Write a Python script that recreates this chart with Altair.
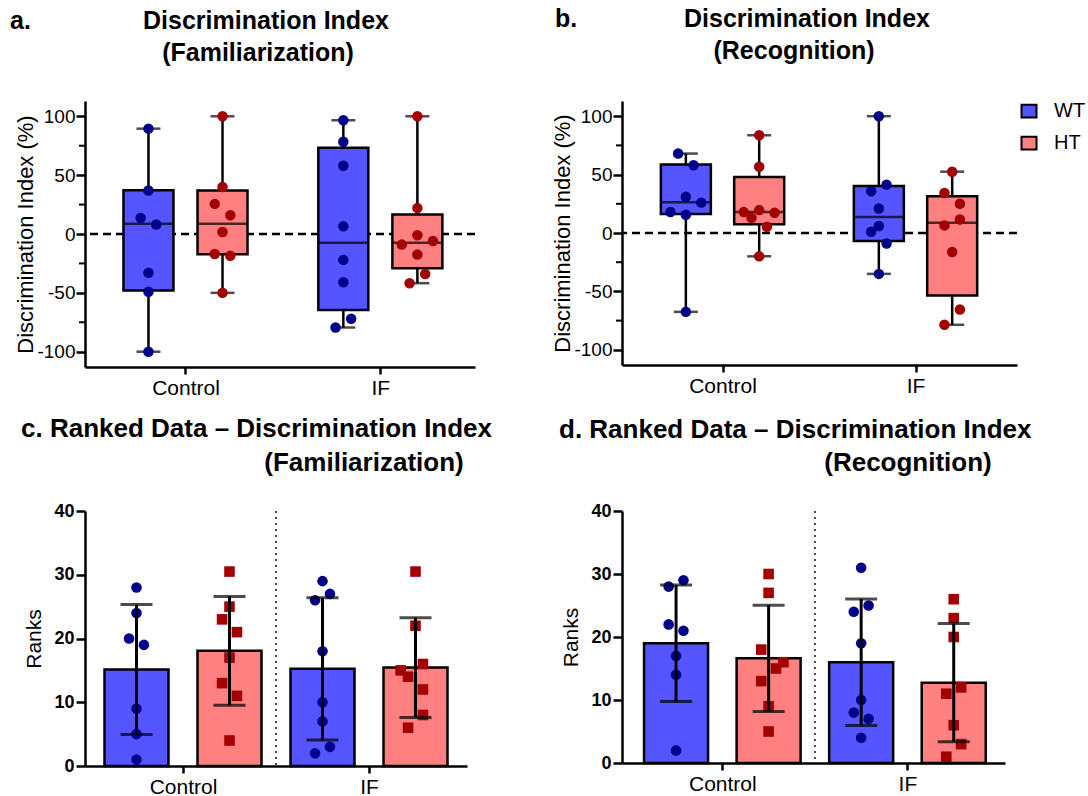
import altair as alt
import pandas as pd

FONT = "Liberation Sans"
WT_FILL, HT_FILL = "#5555FF", "#FF8080"
WT_DOT, HT_DOT = "#00008B", "#A30000"
GENOS = ["WT", "HT"]
ORDER = [("Control", "WT"), ("Control", "HT"), ("IF", "WT"), ("IF", "HT")]

# ---------- a. Discrimination Index (Familiarization), %
fam_wt_control = [89.5, 37, 13.6, 8, -33, -49, -100]
fam_ht_control = [100, 40, 25.6, 16, 1.7, -17, -18.5, -50]
fam_wt_if = [96.6, 78.4, 58, 6.5, -22, -41, -72, -79.5]
fam_ht_if = [100, 22, -1, -6, -9, -17.5, -34, -41.8]
fam_jit = [[0, 0, -1, 1, 0, 0, 0], [0, 0, -1, 1, 0, -1, 1, 0],
           [0, 0, 0, 0, 0, 0, 1, -1], [0, 0, 0, 2, -2, 0, 1, -1]]
fam_q1 = [-48, -17.3, -64.5, -29]
fam_median = [8.8, 8.8, -7.4, -7.4]
fam_q3 = [37.2, 37, 73.3, 16.5]

# ---------- b. Discrimination Index (Recognition), %
rec_wt_control = [68, 58, 31, 26, 18, 15.6, -67.5]
rec_ht_control = [83.7, 56.7, 19.6, 17.9, 17.3, 13, 5.4, -20]
rec_wt_if = [100, 41.4, 35.7, 21, 6, 1.1, -9, -35]
rec_ht_if = [52.5, 34.3, 25, 11.6, 6.5, -16.2, -65.5, -78.6]
rec_jit = [[-1, 1, 0, 2, -2, 0, 0], [0, 0, 0, -2, 2, -1, 1, 0],
           [0, 1, -1, 0, 0, -1, 1, 0], [0, -1, 1, 1, -1, 0, 1, -1]]
rec_q1 = [16.2, 7.4, -6.8, -53.6]
rec_median = [26.4, 17.9, 13.6, 8.8]
rec_q3 = [58.7, 48, 40.3, 31.5]

# ---------- c. Ranked data (Familiarization)
rank_fam_wt_control = [28, 24, 20, 19, 9, 5, 1]
rank_fam_ht_control = [30.5, 25, 23, 21, 17, 13, 11, 4]
rank_fam_wt_if = [29, 27, 26, 18, 10, 7, 3, 2]
rank_fam_ht_if = [30.5, 22, 16, 15, 14, 12, 8, 6]
rank_fam_jit = [[0, 0, -1, 1, 0, 0, 0], [0, 0, -1, 1, 0, -1, 1, 0],
                [0, 1, -1, 0, 0, 0, 1, -1], [0, 0, 1, -2, -1, 1, 1, -1]]

# ---------- d. Ranked data (Recognition)
rank_rec_wt_control = [29, 28, 22, 21, 17, 14, 2]
rank_rec_ht_control = [30, 27, 18, 16, 15, 13, 9, 5]
rank_rec_wt_if = [31, 25, 24, 19, 10, 8, 7, 4]
rank_rec_ht_if = [26, 23, 20, 12, 11, 6, 3, 1]
rank_rec_jit = [[1, -1, -1, 1, 0, 0, 0], [0, 0, -1, 2, 1, -1, 0, 0],
                [0, 1, -1, 0, 0, -1, 1, 0], [0, 0, 0, 1, -1, 0, 1, -1]]

minor_ticks = [-75, -25, 25, 75]


def point_frame(lists, jits):
    rows = []
    for (g, ge), vals, js in zip(ORDER, lists, jits):
        for v, j in zip(vals, js):
            rows.append({"group": g, "geno": ge, "value": v, "jit": j})
    return pd.DataFrame(rows)


def box_frame(lists, q1, med, q3):
    rows = []
    for (g, ge), vals, a, m, b in zip(ORDER, lists, q1, med, q3):
        rows.append({"group": g, "geno": ge, "q1": a, "median": m, "q3": b,
                     "lo": min(vals), "hi": max(vals)})
    return pd.DataFrame(rows)


def title_layer(label, x, y, align="center", size=25):
    return alt.Chart(pd.DataFrame({"t": [label]})).mark_text(
        align=align, baseline="middle", font=FONT, fontSize=size,
        fontWeight="bold", color="black"
    ).encode(x=alt.value(x), y=alt.value(y), text="t:N")


def x_axis():
    return alt.Axis(values=[1, 2], labelExpr="datum.value == 1 ? 'Control' : 'IF'",
                    grid=False, title=None, tickSize=7, tickWidth=2.5, tickColor="black",
                    domainWidth=2.5, domainColor="black", labelFont=FONT, labelFontSize=21,
                    labelColor="black", labelPadding=3, labelFlush=False, labelOverlap=False)


def box_panel(pts, stats, xdomain, width, height, titles, legend):
    off = 0.19
    base_x = f"(datum.group == 'Control' ? 1 : 2) + (datum.geno == 'WT' ? -{off} : {off})"
    xs = alt.Scale(domain=xdomain, nice=False, zero=False)
    ys = alt.Scale(domain=[-113, 113], nice=False, zero=False)
    yax = alt.Axis(values=[-100, -50, 0, 50, 100], labelExpr="'' + datum.value", grid=False,
                   title="Discrimination Index (%)", titleFont=FONT, titleFontSize=22,
                   titleFontWeight="normal", titleColor="black", titlePadding=-1,
                   tickSize=9, tickWidth=2.5, tickColor="black", domainWidth=2.5,
                   domainColor="black", labelFont=FONT, labelFontSize=19,
                   labelColor="black", labelPadding=1)

    def X(f):
        return alt.X(f"{f}:Q", scale=xs, axis=x_axis())

    def Y(f):
        return alt.Y(f"{f}:Q", scale=ys, axis=yax)

    zero = alt.Chart(pd.DataFrame({"z": [0]})).mark_rule(
        strokeDash=[8, 5], strokeWidth=2.5, color="black").encode(y=Y("z"))
    sb = alt.Chart(stats).transform_calculate(xpos=base_x)
    whisk = sb.mark_rule(strokeWidth=2.5, color="black").encode(x=X("xpos"), y=Y("lo"), y2="hi")
    caps = sb.transform_fold(["lo", "hi"], as_=["which", "yv"]).mark_tick(
        orient="horizontal", size=24, thickness=2.5, color="black").encode(x=X("xpos"), y=Y("yv"))
    fill_legend = alt.Legend(title=None, symbolType="M-1,-0.85H1V0.85H-1Z", symbolSize=225,
                             symbolStrokeColor="black", symbolStrokeWidth=2, labelFont=FONT,
                             labelFontSize=20, labelColor="black", rowPadding=10,
                             labelOffset=15, offset=2, padding=0) if legend else None
    box = sb.mark_bar(size=50, stroke="black", strokeWidth=2.5).encode(
        x=X("xpos"), y=Y("q1"), y2="q3",
        fill=alt.Fill("geno:N", scale=alt.Scale(domain=GENOS, range=[WT_FILL, HT_FILL]),
                      legend=fill_legend))
    med = sb.mark_tick(orient="horizontal", size=50, thickness=2.5, color="black").encode(
        x=X("xpos"), y=Y("median"))
    dots = alt.Chart(pts).transform_calculate(xpos=base_x + " + datum.jit * 0.04").mark_circle(
        size=110, opacity=1).encode(
        x=X("xpos"), y=Y("value"),
        color=alt.Color("geno:N", scale=alt.Scale(domain=GENOS, range=[WT_DOT, HT_DOT]), legend=None))
    minor = alt.Chart(pd.DataFrame({"m": minor_ticks})).mark_rule(
        color="black", strokeWidth=2).encode(y=Y("m"), x=alt.value(-6), x2=alt.value(0))
    layers = [zero, whisk, caps, box, med, dots, minor] + titles
    return alt.layer(*layers).resolve_scale(color="independent").properties(width=width, height=height)


def rank_panel(pts, xdomain, width, height, titles, legend):
    off = 0.25
    base_x = f"(datum.group == 'Control' ? 1 : 2) + (datum.geno == 'WT' ? -{off} : {off})"
    xs = alt.Scale(domain=xdomain, nice=False, zero=False)
    ys = alt.Scale(domain=[0, 40], nice=False)
    yax = alt.Axis(values=[0, 10, 20, 30, 40], grid=False, title="Ranks", titleFont=FONT,
                   titleFontSize=21, titleFontWeight="normal", titleColor="black",
                   titlePadding=9, tickSize=9, tickWidth=2.5, tickColor="black",
                   domainWidth=2.5, domainColor="black", labelFont=FONT, labelFontSize=18,
                   labelFontWeight="bold", labelColor="black", labelPadding=2)

    def X(f):
        return alt.X(f"{f}:Q", scale=xs, axis=x_axis())

    def Y(f, **kw):
        return alt.Y(f"{f}:Q", scale=ys, axis=yax, **kw)

    base = alt.Chart(pts).transform_calculate(xb=base_x)
    bars = base.mark_bar(size=64, stroke="black", strokeWidth=2.5).encode(
        x=X("xb"), y=Y("value", aggregate="mean"),
        fill=alt.Fill("geno:N", scale=alt.Scale(domain=GENOS, range=[WT_FILL, HT_FILL]), legend=None))
    leg = alt.Legend(title=None, labelFont=FONT, labelFontSize=20, labelColor="black",
                     rowPadding=8, labelOffset=14, symbolSize=120, offset=14, padding=0) if legend else None
    dots = alt.Chart(pts).transform_calculate(xpos=base_x + " + datum.jit * 0.04").mark_point(
        filled=True, size=112, opacity=1).encode(
        x=X("xpos"), y=Y("value"),
        color=alt.Color("geno:N", scale=alt.Scale(domain=GENOS, range=[WT_DOT, HT_DOT]), legend=leg),
        shape=alt.Shape("geno:N", scale=alt.Scale(domain=GENOS, range=["circle", "square"]), legend=leg))
    agg = base.transform_aggregate(m="mean(value)", s="stdev(value)", groupby=["xb", "geno"]) \
        .transform_calculate(lo="datum.m - datum.s", hi="datum.m + datum.s")
    err = agg.mark_rule(strokeWidth=3, color="black").encode(x=X("xb"), y=Y("lo"), y2="hi")
    caps = agg.transform_fold(["lo", "hi"], as_=["which", "yv"]).mark_tick(
        orient="horizontal", size=32, thickness=3, color="black").encode(x=X("xb"), y=Y("yv"))
    sep = alt.Chart(pd.DataFrame({"s": [1.5]})).mark_rule(
        strokeDash=[2, 4], strokeWidth=2, color="#444").encode(x=X("s"))
    layers = [sep, bars, dots, err, caps] + titles
    return alt.layer(*layers).properties(width=width, height=height)


panel_a = box_panel(
    point_frame([fam_wt_control, fam_ht_control, fam_wt_if, fam_ht_if], fam_jit),
    box_frame([fam_wt_control, fam_ht_control, fam_wt_if, fam_ht_if], fam_q1, fam_median, fam_q3),
    [0.51, 2.46], 390, 266,
    [title_layer("a.", -75, -80, align="left"),
     title_layer("Discrimination Index", 181, -80),
     title_layer("(Familiarization)", 173, -48)],
    legend=False)

panel_b = box_panel(
    point_frame([rec_wt_control, rec_ht_control, rec_wt_if, rec_ht_if], rec_jit),
    box_frame([rec_wt_control, rec_ht_control, rec_wt_if, rec_ht_if], rec_q1, rec_median, rec_q3),
    [0.505, 2.5], 395, 264,
    [title_layer("b.", -67, -82, align="left"),
     title_layer("Discrimination Index", 185, -82),
     title_layer("(Recognition)", 172, -50)],
    legend=True)

panel_c = rank_panel(
    point_frame([rank_fam_wt_control, rank_fam_ht_control, rank_fam_wt_if, rank_fam_ht_if], rank_fam_jit),
    [0.5, 2.5], 382, 255,
    [title_layer("c. Ranked Data \u2013 Discrimination  Index", -64, -82, align="left", size=26),
     title_layer("(Familiarization)", 279, -48, size=26)],
    legend=False)

panel_d = rank_panel(
    point_frame([rank_rec_wt_control, rank_rec_ht_control, rank_rec_wt_if, rank_rec_ht_if], rank_rec_jit),
    [0.485, 2.5], 383, 252,
    [title_layer("d. Ranked Data \u2013 Discrimination  Index", -63, -81, align="left", size=26),
     title_layer("(Recognition)", 286, -48, size=26)],
    legend=True)

chart = alt.concat(
    panel_a, panel_b, panel_c, panel_d, columns=2,
    spacing={"row": 144, "column": 147}, bounds="flush", align="each"
).resolve_scale(
    x="independent", y="independent", color="independent", fill="independent", shape="independent"
).resolve_legend(
    color="independent", fill="independent", shape="independent"
).properties(
    padding={"left": 10, "top": 7, "right": 0, "bottom": 0}, background="white"
).configure_view(stroke=None)

chart.save("out.html", embed_options={"renderer": "svg", "actions": False})
